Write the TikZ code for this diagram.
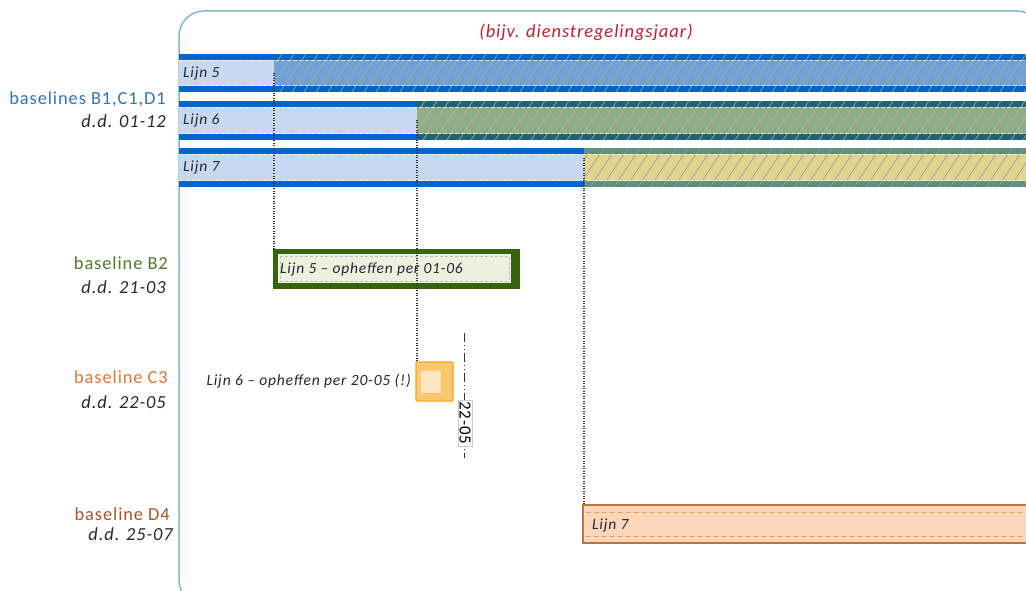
\documentclass[tikz,border=0pt]{standalone}
\usepackage{fontspec}
\setmainfont{Carlito}
\newfontfamily\lblfont[LetterSpace=5,Ligatures=TeX]{Carlito}
\definecolor{framec}{RGB}{125,185,205}
\definecolor{bandblue}{RGB}{0,102,204}
\definecolor{lightfill}{RGB}{198,217,241}
\definecolor{h1fill}{RGB}{112,160,218}
\definecolor{h1line}{RGB}{150,185,120}
\definecolor{h2fill}{RGB}{140,174,140}
\definecolor{h2band}{RGB}{30,100,120}
\definecolor{h2line}{RGB}{215,170,110}
\definecolor{h3fill}{RGB}{222,214,140}
\definecolor{h3band}{RGB}{95,145,120}
\definecolor{h3line}{RGB}{165,135,185}
\definecolor{titlered}{RGB}{195,30,45}
\definecolor{lblblue}{RGB}{46,117,190}
\definecolor{lblgreen}{RGB}{80,120,40}
\definecolor{lblorange}{RGB}{235,115,50}
\definecolor{lblbrown}{RGB}{170,85,40}
\definecolor{txtdark}{RGB}{40,40,50}
\definecolor{greenborder}{RGB}{55,100,10}
\definecolor{greenfill}{RGB}{235,241,222}
\definecolor{orfill}{RGB}{251,200,110}
\definecolor{orborder}{RGB}{240,165,50}
\definecolor{orinner}{RGB}{255,230,190}
\definecolor{peach}{RGB}{250,215,185}
\definecolor{peachborder}{RGB}{190,115,60}
\definecolor{peachdash}{RGB}{225,160,110}
\tikzset{
  barlabel/.style={anchor=west, inner sep=0pt, font=\lblfont\itshape\fontsize{15.5}{17}\selectfont, text=txtdark},
  baselbl/.style={anchor=east, inner sep=0pt, font=\lblfont\fontsize{18.4}{21}\selectfont},
  ddlbl/.style={anchor=east, inner sep=0pt, font=\lblfont\itshape\fontsize{18.4}{21}\selectfont, text=txtdark},
  guide/.style={draw=black!80, line width=1.1pt, dash pattern=on 1pt off 1.5pt},
  innerdash/.style={draw=white, opacity=0.65, line width=0.8pt, dash pattern=on 4pt off 2pt},
}
\newcommand\lijnrow[8]{%
  \fill[lightfill] (179,#1) rectangle (#3,#2);
  \fill[bandblue] (179,#1) rectangle (#3,#1+6);
  \fill[bandblue] (179,#2-6) rectangle (#3,#2);
  \fill[#4] (#3,#1) rectangle (1030,#2);
  \fill[#5] (#3,#1) rectangle (1030,#1+6);
  \fill[#5] (#3,#2-6) rectangle (1030,#2);
  \begin{scope}
    \clip (#3,#1) rectangle (1030,#2);
    \foreach \i in {0,12,...,800} \draw[#6, line width=0.7pt, opacity=0.85] (#3+\i-30,#2) -- ++(26,#1-#2);
  \end{scope}
  \draw[innerdash] (179,#1+6.5) -- (1030,#1+6.5);
  \draw[innerdash] (179,#2-6.5) -- (1030,#2-6.5);
  \node[barlabel] (#8) at (183,{(#1+#2)/2}) {#7};
}
\begin{document}
\begin{tikzpicture}[x=1pt,y=-1pt]
\clip (0,0) rectangle (1026,591);
\fill[white] (0,0) rectangle (1026,591);
% frame
\draw[framec, line width=1.5pt, rounded corners=25pt] (179,11) rectangle (1042,605);
\node[font=\lblfont\itshape\fontsize{18.5}{21}\selectfont, text=titlered] (title) at (586,32) {(bijv. dienstregelingsjaar)};
% rows
\lijnrow{54}{92}{274}{h1fill}{bandblue}{h1line}{Lijn 5}{l5}
\lijnrow{101}{140}{417}{h2fill}{h2band}{h2line}{Lijn 6}{l6}
\lijnrow{148}{187}{584}{h3fill}{h3band}{h3line}{Lijn 7}{l7}
\coordinate (s5) at (274,73);
\coordinate (s6) at (417,120);
\coordinate (s7) at (584,158);
% left labels
\node[baselbl, text=lblblue] (bl1) at (166,99) {baselines B1,C1,D1};
\node[ddlbl] (dd1) at (166,121) {d.d. 01-12};
\node[baselbl, text=lblgreen] (bl2) at (168,263) {baseline B2};
\node[ddlbl] (dd2) at (166,287) {d.d. 21-03};
\node[baselbl, text=lblorange] (bl3) at (168,377) {baseline C3};
\node[ddlbl] (dd3) at (166,402) {d.d. 22-05};
\node[baselbl, text=lblbrown] (bl4) at (170,514) {baseline D4};
\node[ddlbl] (dd4) at (173,534) {d.d. 25-07};
% baseline B2 box
\fill[greenborder] (273,249) rectangle (520,289);
\fill[greenfill] (278,254) rectangle (511,283);
\draw[draw=black!25, line width=0.6pt, dash pattern=on 3pt off 2pt] (280,256) rectangle (509,281);
\node[barlabel, anchor=west] (b2) at (280,269) {Lijn 5 – opheffen per 01-06};
\coordinate (b2top) at (274,249);
% baseline C3 box
\draw[orborder, fill=orfill, line width=1.2pt, rounded corners=1pt] (416,362) rectangle (453,401);
\draw[orfill!80!orborder, fill=orinner, line width=0.8pt, dash pattern=on 3pt off 2pt] (420,370) rectangle (441,393);
\coordinate (c3top) at (417,362);
\node[barlabel, anchor=east, font=\lblfont\itshape\fontsize{15.6}{17}\selectfont] (c3txt) at (411,381) {Lijn 6 – opheffen per 20-05 (!)};
% date line 22-05
\coordinate (dtop) at (464,333);
\coordinate (dbot) at (464,458);
\draw[black!80, line width=1pt, dash pattern=on 9pt off 3pt on 1pt off 3pt on 1pt off 3pt] (dtop) -- (dbot);
\node[rotate=-90, fill=white, draw=black!20, line width=0.5pt, inner sep=1.5pt, font=\lblfont\fontsize{17}{19}\selectfont] (d2205) at (465,423) {22-05};
% baseline D4 bar
\fill[peach] (583,505) rectangle (1030,543);
\draw[peachborder, line width=1.2pt] (1030,505) -- (583,505) -- (583,543) -- (1030,543);
\draw[peachdash, line width=0.9pt, dash pattern=on 5pt off 3pt] (586,512.5) -- (1030,512.5);
\draw[peachdash, line width=0.9pt, dash pattern=on 5pt off 3pt] (586,536) -- (1030,536);
\node[barlabel] (d4) at (592,525) {Lijn 7};
\coordinate (d4top) at (584,505);
% guide lines
\draw[guide] (s5) -- (b2top);
\draw[guide] (s6) -- (c3top);
\draw[guide] (s7) -- (d4top);
\end{tikzpicture}
\end{document}
